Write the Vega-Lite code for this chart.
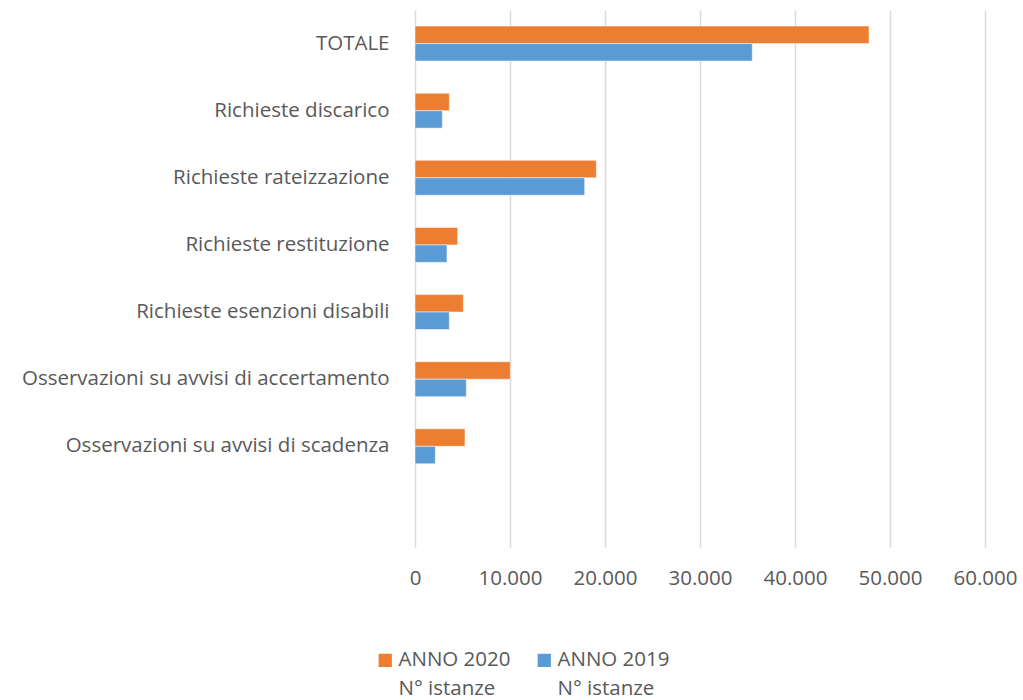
{
  "$schema": "https://vega.github.io/schema/vega-lite/v6.json",
  "width": 570,
  "height": 537,
  "autosize": {"type": "none"},
  "padding": {"left": 415, "top": 10, "right": 38, "bottom": 153},
  "background": "white",
  "config": {"view": {"stroke": null}, "font": "Open Sans", "style": {"guide-label": {"lineHeight": 29}}},
  "data": {"values": [
    {"categoria": "TOTALE", "serie": "ANNO 2020", "valore": 47790},
    {"categoria": "TOTALE", "serie": "ANNO 2019", "valore": 35505},
    {"categoria": "Richieste discarico", "serie": "ANNO 2020", "valore": 3614},
    {"categoria": "Richieste discarico", "serie": "ANNO 2019", "valore": 2877},
    {"categoria": "Richieste rateizzazione", "serie": "ANNO 2020", "valore": 19088},
    {"categoria": "Richieste rateizzazione", "serie": "ANNO 2019", "valore": 17860},
    {"categoria": "Richieste restituzione", "serie": "ANNO 2020", "valore": 4491},
    {"categoria": "Richieste restituzione", "serie": "ANNO 2019", "valore": 3368},
    {"categoria": "Richieste esenzioni disabili", "serie": "ANNO 2020", "valore": 5088},
    {"categoria": "Richieste esenzioni disabili", "serie": "ANNO 2019", "valore": 3614},
    {"categoria": "Osservazioni su avvisi di accertamento", "serie": "ANNO 2020", "valore": 10035},
    {"categoria": "Osservazioni su avvisi di accertamento", "serie": "ANNO 2019", "valore": 5404},
    {"categoria": "Osservazioni su avvisi di scadenza", "serie": "ANNO 2020", "valore": 5263},
    {"categoria": "Osservazioni su avvisi di scadenza", "serie": "ANNO 2019", "valore": 2140}
  ]},
  "mark": {"type": "bar", "stroke": "white", "strokeOpacity": 0.5, "strokeWidth": 1},
  "encoding": {
    "y": {
      "field": "categoria",
      "type": "nominal",
      "scale": {
        "domain": ["TOTALE", "Richieste discarico", "Richieste rateizzazione", "Richieste restituzione", "Richieste esenzioni disabili", "Osservazioni su avvisi di accertamento", "Osservazioni su avvisi di scadenza", " "],
        "paddingInner": 0.48,
        "paddingOuter": 0.24
      },
      "axis": {
        "title": null,
        "ticks": false,
        "domain": false,
        "labelPadding": 26,
        "labelFontSize": 20.5,
        "labelColor": "#595959",
        "labelLimit": 420
      }
    },
    "yOffset": {
      "field": "serie",
      "type": "nominal",
      "sort": ["ANNO 2020", "ANNO 2019"],
      "scale": {"paddingInner": 0, "paddingOuter": 0}
    },
    "x": {
      "field": "valore",
      "type": "quantitative",
      "scale": {"domain": [0, 60000], "nice": false},
      "axis": {
        "title": null,
        "values": [0, 10000, 20000, 30000, 40000, 50000, 60000],
        "labelExpr": "replace(format(datum.value, ','), /,/g, '.')",
        "ticks": false,
        "domain": false,
        "grid": true,
        "gridColor": "#D9D9D9",
        "gridWidth": 1.5,
        "labelPadding": 21,
        "labelFontSize": 20.5,
        "labelColor": "#595959",
        "labelFlush": false
      }
    },
    "color": {
      "field": "serie",
      "type": "nominal",
      "sort": ["ANNO 2020", "ANNO 2019"],
      "scale": {"domain": ["ANNO 2020", "ANNO 2019"], "range": ["#ED7D31", "#5B9BD5"]},
      "legend": {
        "title": null,
        "orient": "none",
        "direction": "horizontal",
        "legendX": -40,
        "legendY": 640,
        "symbolType": "square",
        "symbolSize": 175,
        "symbolStrokeWidth": 0,
        "labelFontSize": 20.5,
        "labelColor": "#595959",
        "labelExpr": "[datum.label, 'N° istanze']",
        "labelBaseline": "middle",
        "labelOffset": 3,
        "columnPadding": 23,
        "labelLimit": 300
      }
    }
  }
}
